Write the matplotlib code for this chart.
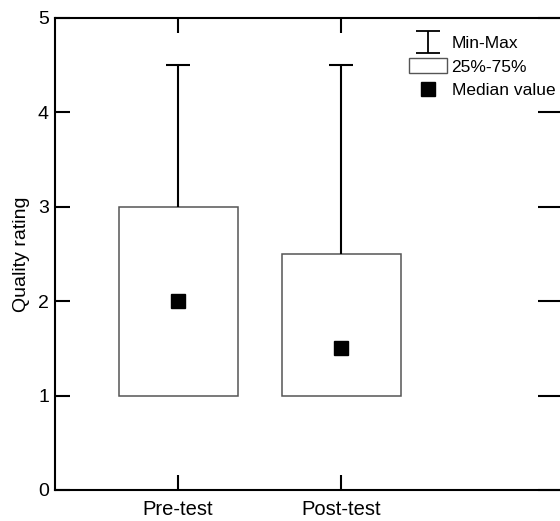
import matplotlib
matplotlib.use("Agg")
import matplotlib.pyplot as plt
from matplotlib.path import Path
from matplotlib.lines import Line2D
from matplotlib.patches import Rectangle

plt.rcParams['font.family'] = ['Liberation Sans', 'DejaVu Sans']

groups = ['Pre-test', 'Post-test']
mins = [1.0, 1.0]
q1 = [1.0, 1.0]
medians = [2.0, 1.5]
q3 = [3.0, 2.5]
maxs = [4.5, 4.5]

pos = [1, 2]
box_w = 0.73
cap_w = 0.147

fig = plt.figure(figsize=(5.6, 5.21), dpi=100)
ax = fig.add_axes([54.5 / 560, 31 / 521, (566 - 54.5) / 560, 472 / 521])

heights = [b - a for a, b in zip(q1, q3)]
ax.bar(pos, heights, bottom=q1, width=box_w, facecolor='white',
       edgecolor='#555555', linewidth=1.1, zorder=2)
ax.vlines(pos, q3, maxs, color='black', linewidth=1.5, zorder=3)
ax.vlines(pos, mins, q1, color='black', linewidth=1.5, zorder=3)
ax.hlines(maxs, [p - cap_w / 2 for p in pos], [p + cap_w / 2 for p in pos],
          color='black', linewidth=1.5, zorder=3)
ax.plot(pos, medians, 's', color='black', markersize=9.5, zorder=4)

ax.set_xlim(0.242, 3.38)
ax.set_ylim(0, 5)
ax.set_xticks(pos)
ax.set_xticklabels(groups, fontsize=14.5)
ax.set_yticks([0, 1, 2, 3, 4, 5])
ax.tick_params(axis='y', labelsize=14, pad=4)
ax.tick_params(axis='x', pad=7)
ax.tick_params(direction='in', length=10.5, width=1.5, top=True)
ax.tick_params(axis='y', which='both', right=True)
for t in ax.yaxis.get_major_ticks():
    t.tick2line.set_markersize(20)
ax.set_ylabel('Quality rating', fontsize=14, labelpad=6)
for s in ax.spines.values():
    s.set_linewidth(1.5)

# legend icons
ibar = Path([(-0.545, 0.5), (0.545, 0.5), (0, 0.5), (0, -0.5),
             (-0.545, -0.5), (0.545, -0.5)],
            [Path.MOVETO, Path.LINETO, Path.MOVETO, Path.LINETO,
             Path.MOVETO, Path.LINETO])
h_minmax = Line2D([], [], linestyle='none', marker=ibar, markersize=17.5,
                  markerfacecolor='none', markeredgecolor='black',
                  markeredgewidth=1.3)
h_box = Rectangle((0, 0), 1, 1, facecolor='white', edgecolor='#555555',
                  linewidth=1.0)
h_med = Line2D([], [], linestyle='none', marker='s', color='black',
               markersize=9.5)
fig.legend([h_minmax, h_box, h_med], ['Min-Max', '25%-75%', 'Median value'],
           loc='upper left', bbox_to_anchor=(409 / 560, 1 - 35 / 521),
           frameon=False, fontsize=12.5, borderpad=0, borderaxespad=0,
           handlelength=2.2, handleheight=0.9, handletextpad=0.25,
           labelspacing=0.42)

fig.savefig('out.png', dpi=100)
